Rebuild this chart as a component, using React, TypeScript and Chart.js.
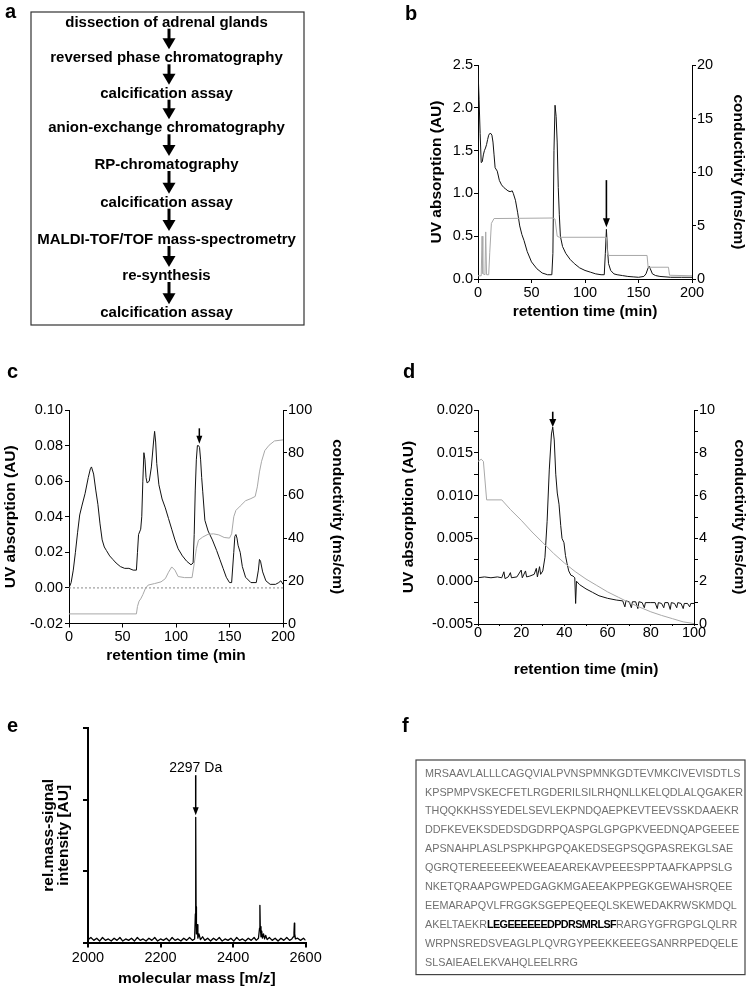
import React, { useEffect, useRef } from "react";
import { Chart, registerables } from "chart.js";

Chart.register(...registerables);

const SANS = "'Liberation Sans', Arial, Helvetica, sans-serif";
type Pt = [number, number];

// ---------------- Panel a: workflow ----------------
const flowSteps = [
  "dissection of adrenal glands",
  "reversed phase chromatography",
  "calcification assay",
  "anion-exchange chromatography",
  "RP-chromatography",
  "calcification assay",
  "MALDI-TOF/TOF mass-spectrometry",
  "re-synthesis",
  "calcification assay",
];

// ---------------- Panel b ----------------
const bUV: Pt[] = [
  [0, 2.45], [1, 2.1], [2, 1.7], [3, 1.36], [4, 1.37], [5, 1.45], [6, 1.5], [7, 1.53], [8, 1.57], [9, 1.63],
  [10, 1.68], [11, 1.7], [12, 1.7], [13, 1.68], [14, 1.6], [15, 1.45], [16, 1.3], [18, 1.26], [20, 1.15],
  [22, 1.1], [24, 1.07], [26, 1.05], [28, 1.03], [30, 1.02], [32, 1.03], [33, 1.0], [35, 0.92], [37, 0.78],
  [39, 0.62], [41, 0.52], [43, 0.45], [46, 0.32], [50, 0.2], [55, 0.12], [60, 0.07], [65, 0.05], [69, 0.05],
  [70, 0.3], [71, 1.5], [72, 2.03], [73, 1.9], [74, 1.6], [75, 1.07], [76, 0.75], [77, 0.5], [79, 0.38],
  [82, 0.3], [86, 0.23], [90, 0.18], [95, 0.13], [100, 0.1], [105, 0.08], [110, 0.06], [115, 0.05],
  [118, 0.05], [119, 0.3], [120, 0.58], [121, 0.35], [122, 0.18], [124, 0.1], [127, 0.06], [130, 0.05],
  [135, 0.04], [140, 0.03], [145, 0.025], [150, 0.02], [155, 0.03], [157, 0.06], [159, 0.13], [160, 0.15],
  [161, 0.12], [163, 0.06], [166, 0.04], [170, 0.03], [180, 0.02], [190, 0.02], [200, 0.02],
];
const bCond: Pt[] = [
  [0, 0.3], [3, 0.3], [3.8, 4.0], [4.5, 0.5], [6.5, 0.4], [7.2, 4.4], [8, 0.4], [10, 0.4], [11, 2.5],
  [12.5, 5.2], [15, 5.65], [70, 5.7], [72, 5.6], [74, 4.0], [76, 3.9], [120, 3.9], [121, 2.3], [122, 2.2],
  [158, 2.2], [159, 1.1], [178, 1.1], [179, 0.35], [200, 0.3],
];
const bArrow = { x: 120, from: 1.155, to: 0.605 };

// ---------------- Panel c ----------------
const cUV: Pt[] = [
  [0, 0.0], [2, 0.003], [4, 0.01], [6, 0.02], [8, 0.031], [10, 0.041], [12, 0.046], [15, 0.053], [18, 0.062],
  [20, 0.067], [21, 0.068], [23, 0.064], [25, 0.055], [27, 0.047], [29, 0.036], [31, 0.027], [33, 0.023],
  [35, 0.021], [38, 0.018], [41, 0.016], [44, 0.014], [48, 0.012], [52, 0.011], [56, 0.011], [60, 0.01],
  [63, 0.01], [64, 0.02], [65, 0.03], [67, 0.033], [68, 0.04], [69, 0.06], [70, 0.076], [71, 0.072],
  [72, 0.062], [73, 0.059], [75, 0.06], [77, 0.068], [79, 0.082], [80, 0.088], [81, 0.082], [82, 0.07],
  [84, 0.058], [87, 0.05], [90, 0.045], [93, 0.039], [96, 0.033], [99, 0.027], [102, 0.022], [106, 0.018],
  [110, 0.015], [114, 0.013], [116, 0.014], [117, 0.03], [118, 0.055], [119, 0.072], [120, 0.08], [121, 0.08],
  [122, 0.079], [123, 0.072], [124, 0.062], [125, 0.054], [127, 0.038], [130, 0.032], [134, 0.027],
  [138, 0.021], [141, 0.016], [144, 0.011], [147, 0.006], [150, 0.003], [152, 0.003], [154, 0.02],
  [155, 0.029], [156, 0.03], [157, 0.028], [158, 0.024], [160, 0.02], [162, 0.012], [165, 0.006],
  [170, 0.003], [175, 0.003], [177, 0.01], [178, 0.016], [179, 0.015], [181, 0.009], [184, 0.004],
  [188, 0.002], [193, 0.002], [196, 0.003], [198, 0.004], [200, 0.002],
];
const cCond: Pt[] = [
  [0, 4.5], [63, 4.5], [64, 8], [65.5, 10.5], [67, 11.5], [69, 13.5], [71.5, 16.5], [74, 18], [80, 18.7],
  [86, 19.5], [90, 21], [93, 24], [96, 26.5], [99, 25], [102, 22], [108, 21.5], [115, 21.5], [117, 28],
  [119, 35], [121, 39], [125, 40.5], [130, 41.8], [135, 42], [140, 41.5], [145, 40.3], [150, 40], [152, 42],
  [154, 50], [156, 53], [160, 55], [165, 57.5], [170, 58.5], [174, 59.5], [176, 64], [178, 71], [180, 76],
  [183, 81], [187, 83.5], [192, 85.5], [200, 86],
];
const cZero: Pt[] = [[0, 0], [200, 0]];
const cArrow = { x: 121.8, from: 0.0897, to: 0.081 };

// ---------------- Panel d ----------------
const dUV: Pt[] = [
  [0, 0.0004], [3, 0.0005], [6, 0.0004], [9, 0.0005], [11, 0.0004], [12, 0.0011], [12.5, 0.0003], [14, 0.0005],
  [15, 0.001], [15.5, 0.0004], [18, 0.0005], [20, 0.0013], [20.5, 0.0004], [22, 0.0012], [22.5, 0.0005],
  [24, 0.0006], [26, 0.0008], [27, 0.0015], [27.5, 0.0005], [28.5, 0.0017], [29, 0.0008], [30, 0.0012],
  [31, 0.0028], [32, 0.007], [33, 0.013], [34, 0.0172], [34.6, 0.018], [35.3, 0.0165], [36, 0.0125],
  [36.7, 0.0103], [37.5, 0.009], [38.3, 0.0065], [38.9, 0.005], [39.8, 0.0045], [40.5, 0.003], [41.2, 0.0021],
  [42, 0.0012], [43, 0.0007], [44, 0.0006], [44.8, 0.0004], [45.2, -0.0026], [45.6, 0.0], [47, -0.0004],
  [50, -0.0009], [53, -0.0013], [56, -0.0017], [60, -0.002], [64, -0.0022], [67, -0.0023], [68, -0.003],
  [68.5, -0.0023], [70, -0.0024], [71, -0.0031], [71.5, -0.0024], [73, -0.0024], [74, -0.0032], [74.5, -0.0024],
  [76, -0.0025], [77, -0.0031], [77.5, -0.0025], [80, -0.0025], [82, -0.0025], [83, -0.0032], [83.5, -0.0025],
  [85, -0.0026], [86, -0.0031], [86.5, -0.0025], [88, -0.0025], [89, -0.0033], [89.5, -0.0025], [91, -0.0026],
  [92, -0.0031], [92.5, -0.0025], [94, -0.0026], [95, -0.0032], [95.5, -0.0026], [97, -0.0026], [98, -0.003],
  [98.5, -0.0026], [100, -0.0026],
];
const dCond: Pt[] = [
  [0, 7.6], [1.5, 7.7], [2.5, 7.6], [4, 5.8], [11, 5.8], [15, 5.35], [20, 4.85], [25, 4.3], [30, 3.8],
  [35, 3.3], [40, 2.85], [45, 2.45], [50, 2.1], [55, 1.8], [60, 1.5], [65, 1.25], [70, 1.0], [75, 0.78],
  [80, 0.57], [85, 0.4], [90, 0.25], [95, 0.1], [100, 0.02],
];
const dArrow = { x: 34.6, from: 0.0198, to: 0.018 };

// ---------------- Panel e ----------------
const eSpectrum: Pt[] = [
  [2000, 0.04], [2008, 0.07], [2016, 0.03], [2024, 0.06], [2032, 0.02], [2040, 0.07], [2048, 0.03], [2056, 0.05],
  [2064, 0.02], [2072, 0.06], [2080, 0.03], [2088, 0.07], [2096, 0.02], [2104, 0.05], [2112, 0.03], [2120, 0.06],
  [2128, 0.02], [2136, 0.07], [2144, 0.03], [2152, 0.05], [2160, 0.02], [2168, 0.06], [2176, 0.03], [2184, 0.07],
  [2192, 0.02], [2200, 0.05], [2208, 0.03], [2216, 0.06], [2224, 0.02], [2232, 0.07], [2240, 0.03], [2248, 0.05],
  [2256, 0.02], [2264, 0.06], [2272, 0.03], [2280, 0.07], [2288, 0.03], [2294, 0.05], [2296, 0.4], [2297, 1.75],
  [2298, 0.5], [2299, 0.12], [2301, 0.25], [2303, 0.06], [2306, 0.12], [2310, 0.04], [2316, 0.08], [2322, 0.03],
  [2330, 0.06], [2338, 0.02], [2346, 0.06], [2354, 0.03], [2362, 0.07], [2370, 0.02], [2378, 0.05], [2386, 0.03],
  [2394, 0.06], [2402, 0.02], [2410, 0.07], [2418, 0.03], [2426, 0.05], [2434, 0.02], [2442, 0.06], [2450, 0.03],
  [2458, 0.07], [2464, 0.03], [2470, 0.06], [2473, 0.2], [2474, 0.52], [2475, 0.22], [2477, 0.08], [2479, 0.16],
  [2481, 0.06], [2484, 0.12], [2487, 0.05], [2490, 0.1], [2494, 0.04], [2500, 0.07], [2508, 0.03], [2516, 0.06],
  [2524, 0.02], [2532, 0.06], [2540, 0.03], [2548, 0.07], [2556, 0.03], [2562, 0.05], [2566, 0.08], [2568, 0.14],
  [2569, 0.27], [2570, 0.12], [2572, 0.05], [2578, 0.06], [2586, 0.03], [2594, 0.06], [2600, 0.03],
];
const eArrow = { x: 2297, from: 2.34, to: 1.78 };
const eLabel = { x: 2297, y: 2.44, text: "2297 Da" };

// ---------------- Panel f ----------------
const seqLines: string[] = [
  "MRSAAVLALLLCAGQVIALPVNSPMNKGDTEVMKCIVEVISDTLS",
  "KPSPMPVSKECFETLRGDERILSILRHQNLLKELQDLALQGAKER",
  "THQQKKHSSYEDELSEVLEKPNDQAEPKEVTEEVSSKDAAEKR",
  "DDFKEVEKSDEDSDGDRPQASPGLGPGPKVEEDNQAPGEEEE",
  "APSNAHPLASLPSPKHPGPQAKEDSEGPSQGPASREKGLSAE",
  "QGRQTEREEEEEKWEEAEAREKAVPEEESPPTAAFKAPPSLG",
  "NKETQRAAPGWPEDGAGKMGAEEAKPPEGKGEWAHSRQEE",
  "EEMARAPQVLFRGGKSGEPEQEEQLSKEWEDAKRWSKMDQL",
  "AKELTAEKR|LEGEEEEEEDPDRSMRLSF|RARGYGFRGPGLQLRR",
  "WRPNSREDSVEAGLPLQVRGYPEEKKEEEGSANRRPEDQELE",
  "SLSAIEAELEKVAHQLEELRRG",
];

// ---------------- chart machinery ----------------
interface AxisDef {
  min: number; max: number; step: number; major?: number; decimals: number;
  hideLabels?: boolean; title?: string | string[]; tickLen: number; tickPad: number;
}
interface Series { data: Pt[]; color: string; width: number; axis: string; dash?: number[] }
interface Arrow { x: number; from: number; to: number; head: number; headW: number; lw: number }
interface Note { x: number; y: number; text: string; size: number }
interface PanelSpec {
  canvas: { left: number; top: number; width: number; height: number };
  area: { left: number; top: number; right: number; bottom: number };
  x: AxisDef; y: AxisDef; y2?: AxisDef;
  xTitleY: number; yTitleX: number; y2TitleX?: number; yTitleLH?: number;
  axisColor: string; axisWidth: number;
  series: Series[]; arrows: Arrow[]; notes: Note[];
}

const UVC = "#111111";
const CONDC = "#a8a8a8";
const TITLE_SIZE = 15.5;

const panelB: PanelSpec = {
  canvas: { left: 395, top: 40, width: 354, height: 300 },
  area: { left: 478, top: 65, right: 692, bottom: 279 },
  x: { min: 0, max: 200, step: 50, decimals: 0, title: "retention time (min)", tickLen: 4, tickPad: 1 },
  y: { min: 0, max: 2.5, step: 0.5, decimals: 1, title: "UV absorption (AU)", tickLen: 4, tickPad: 1 },
  y2: { min: 0, max: 20, step: 5, decimals: 0, title: "conductivity (ms/cm)", tickLen: 4, tickPad: 1 },
  xTitleY: 312, yTitleX: 437, y2TitleX: 738,
  axisColor: "#000", axisWidth: 1,
  series: [
    { data: bCond, color: CONDC, width: 1, axis: "y2" },
    { data: bUV, color: UVC, width: 1, axis: "y" },
  ],
  arrows: [{ ...bArrow, head: 9, headW: 7, lw: 1.6 }],
  notes: [],
};

const panelC: PanelSpec = {
  canvas: { left: 0, top: 380, width: 380, height: 290 },
  area: { left: 69, top: 410, right: 283, bottom: 623.5 },
  x: { min: 0, max: 200, step: 50, decimals: 0, title: "retention time (min", tickLen: 4, tickPad: 1 },
  y: { min: -0.02, max: 0.1, step: 0.02, decimals: 2, title: "UV absorption (AU)", tickLen: 4, tickPad: 2 },
  y2: { min: 0, max: 100, step: 20, decimals: 0, title: "conductivity (ms/cm)", tickLen: 4, tickPad: 1 },
  xTitleY: 656, yTitleX: 11, y2TitleX: 337.5,
  axisColor: "#000", axisWidth: 1,
  series: [
    { data: cZero, color: "#8a8a8a", width: 1, axis: "y", dash: [2, 2] },
    { data: cCond, color: CONDC, width: 1, axis: "y2" },
    { data: cUV, color: UVC, width: 1, axis: "y" },
  ],
  arrows: [{ ...cArrow, head: 8, headW: 6, lw: 1.5 }],
  notes: [],
};

const panelD: PanelSpec = {
  canvas: { left: 395, top: 380, width: 354, height: 300 },
  area: { left: 478, top: 410, right: 694, bottom: 624 },
  x: { min: 0, max: 100, step: 10, major: 20, decimals: 0, title: "retention time (min)", tickLen: 2, tickPad: -2 },
  y: { min: -0.005, max: 0.02, step: 0.0025, major: 0.005, decimals: 3, title: "UV absorpbtion (AU)", tickLen: 4, tickPad: 1 },
  y2: { min: 0, max: 10, step: 1, major: 2, decimals: 0, title: "conductivity (ms/cm)", tickLen: 4, tickPad: 1 },
  xTitleY: 670, yTitleX: 408.5, y2TitleX: 740,
  axisColor: "#000", axisWidth: 1,
  series: [
    { data: dCond, color: CONDC, width: 1, axis: "y2" },
    { data: dUV, color: UVC, width: 1, axis: "y" },
  ],
  arrows: [{ ...dArrow, head: 8, headW: 7, lw: 1.6 }],
  notes: [],
};

const panelE: PanelSpec = {
  canvas: { left: 0, top: 700, width: 330, height: 291 },
  area: { left: 88, top: 728, right: 305.6, bottom: 942.5 },
  x: { min: 2000, max: 2600, step: 200, decimals: 0, title: "molecular mass [m/z]", tickLen: 5, tickPad: 2 },
  y: { min: 0, max: 3, step: 1, decimals: 0, hideLabels: true, title: ["rel.mass-signal", "intensity [AU]"], tickLen: 5, tickPad: 2 },
  xTitleY: 979, yTitleX: 48.5, yTitleLH: 1.0,
  axisColor: "#000", axisWidth: 2,
  series: [{ data: eSpectrum, color: "#000", width: 1.3, axis: "y" }],
  arrows: [{ ...eArrow, head: 8, headW: 6, lw: 1.5 }],
  notes: [{ ...eLabel, size: 14 }],
};

function tickFmt(ax: AxisDef) {
  return (v: any) => {
    if (ax.hideLabels) return "";
    const major = ax.major ?? ax.step;
    const r = Number(v) / major;
    if (Math.abs(r - Math.round(r)) > 1e-6) return "";
    const s = Number(v).toFixed(ax.decimals);
    return s === "-0.000" || s === "-0.00" || s === "-0.0" ? s.slice(1) : s;
  };
}

function makeScale(ax: AxisDef, position: string, fit: (s: any) => void, titlePad: any, color: string, width: number, lhf: number) {
  return {
    type: "linear",
    position,
    min: ax.min,
    max: ax.max,
    ticks: {
      stepSize: ax.step,
      autoSkip: false,
      maxRotation: 0,
      minRotation: 0,
      padding: ax.tickPad,
      color: "#000",
      font: { family: SANS, size: 14.5 },
      callback: tickFmt(ax),
    },
    grid: {
      display: true,
      drawOnChartArea: false,
      drawTicks: true,
      tickLength: ax.tickLen,
      color,
      lineWidth: width,
    },
    border: { display: true, color, width },
    title: ax.title
      ? {
          display: true,
          text: ax.title,
          color: "#000",
          font: { family: SANS, size: TITLE_SIZE, weight: "bold", lineHeight: lhf },
          padding: titlePad,
        }
      : { display: false },
    afterFit: fit,
  };
}

function buildChart(canvas: HTMLCanvasElement, p: PanelSpec) {
  const c = p.canvas;
  const a = p.area;
  const cr = c.left + c.width;
  const cb = c.top + c.height;
  const leftW = a.left - c.left;
  const rightW = cr - a.right;
  const botH = cb - a.bottom;
  const topPad = a.top - c.top;
  const lh12 = TITLE_SIZE * 1.2;
  const lhY = TITLE_SIZE * (p.yTitleLH ?? 1.2);

  const scales: any = {
    x: makeScale(p.x, "bottom", (s: any) => { s.height = botH; },
      { top: 0, bottom: cb - p.xTitleY - lh12 / 2 }, p.axisColor, p.axisWidth, 1.2),
    y: makeScale(p.y, "left", (s: any) => { s.width = leftW; },
      { top: p.yTitleX - c.left - lhY / 2, bottom: 0 }, p.axisColor, p.axisWidth, p.yTitleLH ?? 1.2),
  };
  if (p.y2) {
    scales.y2 = makeScale(p.y2, "right", (s: any) => { s.width = rightW; },
      { top: Math.max(0, cr - (p.y2TitleX ?? cr) - lh12 / 2), bottom: 0 }, p.axisColor, p.axisWidth, 1.2);
  }

  const overlay = {
    id: "overlay" + Math.round(c.left) + "_" + Math.round(c.top),
    afterDatasetsDraw(chart: any) {
      const ctx = chart.ctx as CanvasRenderingContext2D;
      const xs = chart.scales.x;
      const ys = chart.scales.y;
      for (const ar of p.arrows) {
        const px = xs.getPixelForValue(ar.x);
        const y0 = ys.getPixelForValue(ar.from);
        const y1 = ys.getPixelForValue(ar.to);
        ctx.save();
        ctx.strokeStyle = "#000";
        ctx.fillStyle = "#000";
        ctx.lineWidth = ar.lw;
        ctx.beginPath();
        ctx.moveTo(px, y0);
        ctx.lineTo(px, y1 - ar.head + 1);
        ctx.stroke();
        ctx.beginPath();
        ctx.moveTo(px - ar.headW / 2, y1 - ar.head);
        ctx.lineTo(px + ar.headW / 2, y1 - ar.head);
        ctx.lineTo(px, y1);
        ctx.closePath();
        ctx.fill();
        ctx.restore();
      }
      for (const n of p.notes) {
        ctx.save();
        ctx.fillStyle = "#000";
        ctx.font = `${n.size}px ${SANS}`;
        ctx.textAlign = "center";
        ctx.textBaseline = "middle";
        ctx.fillText(n.text, xs.getPixelForValue(n.x), ys.getPixelForValue(n.y));
        ctx.restore();
      }
    },
  };

  return new Chart(canvas, {
    type: "line",
    data: {
      datasets: p.series.map((s) => ({
        data: s.data.map(([x, y]) => ({ x, y })),
        borderColor: s.color,
        backgroundColor: s.color,
        borderWidth: s.width,
        borderDash: s.dash || [],
        borderJoinStyle: "round",
        pointRadius: 0,
        pointHoverRadius: 0,
        tension: 0,
        fill: false,
        xAxisID: "x",
        yAxisID: s.axis,
      })),
    } as any,
    options: {
      responsive: false,
      maintainAspectRatio: false,
      animation: false,
      devicePixelRatio: 1,
      events: [],
      layout: { padding: { top: topPad, left: 0, right: p.y2 ? 0 : rightW, bottom: 0 } },
      plugins: { legend: { display: false }, tooltip: { enabled: false } },
      scales,
    } as any,
    plugins: [overlay as any],
  });
}

function ChartPanel({ spec }: { spec: PanelSpec }) {
  const ref = useRef<HTMLCanvasElement>(null);
  useEffect(() => {
    if (!ref.current) return;
    const chart = buildChart(ref.current, spec);
    return () => chart.destroy();
  }, [spec]);
  const c = spec.canvas;
  return (
    <canvas
      ref={ref}
      width={c.width}
      height={c.height}
      style={{ position: "absolute", left: c.left, top: c.top, width: c.width, height: c.height }}
    />
  );
}

// ---------------- page ----------------
const flowRowY = [22.7, 58.3, 93.7, 128.3, 165, 202.7, 240, 276, 313.3];
const panelLetters = [
  { t: "a", x: 5, y: 18 },
  { t: "b", x: 405, y: 20 },
  { t: "c", x: 7, y: 378 },
  { t: "d", x: 403, y: 378 },
  { t: "e", x: 7, y: 732 },
  { t: "f", x: 402, y: 732 },
];

function Overlay() {
  const arrows = [];
  for (let i = 0; i < flowRowY.length - 1; i++) {
    const y0 = flowRowY[i] + 6;
    const y1 = flowRowY[i + 1] - 9;
    arrows.push(
      <g key={"ar" + i}>
        <line x1={169} y1={y0} x2={169} y2={y1 - 10} stroke="#000" strokeWidth={3} />
        <polygon points={`${162.5},${y1 - 11} ${175.5},${y1 - 11} ${169},${y1}`} fill="#000" />
      </g>
    );
  }
  return (
    <svg width={749} height={991} style={{ position: "absolute", left: 0, top: 0, pointerEvents: "none" }}>
      {panelLetters.map((l) => (
        <text key={l.t} x={l.x} y={l.y} fontFamily={SANS} fontWeight="bold" fontSize={20} fill="#000">
          {l.t}
        </text>
      ))}
      <rect x={31} y={12} width={273} height={313} fill="none" stroke="#333" strokeWidth={1.2} />
      {flowSteps.map((s, i) => (
        <text key={"fs" + i} x={166.5} y={flowRowY[i] + 4} textAnchor="middle" fontFamily={SANS}
          fontWeight="bold" fontSize={15} fill="#000">
          {s}
        </text>
      ))}
      {arrows}
      <rect x={416} y={760} width={329} height={214.6} fill="none" stroke="#444" strokeWidth={1.2} />
      {seqLines.map((line, i) => {
        const parts = line.split("|");
        return (
          <text key={"sq" + i} x={425} y={776.6 + i * 18.92} fontFamily={SANS} fontSize={10.8} fill="#707070">
            {parts.map((pt, j) => (
              <tspan
                key={j}
                fontWeight={j === 1 ? "bold" : "normal"}
                fill={j === 1 ? "#000" : "#707070"}
                style={j === 1 ? { letterSpacing: "-0.6px" } : undefined}
              >
                {pt}
              </tspan>
            ))}
          </text>
        );
      })}
    </svg>
  );
}

export default function App() {
  return (
    <div
      style={{
        position: "absolute",
        left: 0,
        top: 0,
        width: 749,
        height: 991,
        background: "#fff",
        overflow: "hidden",
        fontFamily: SANS,
      }}
    >
      <ChartPanel spec={panelB} />
      <ChartPanel spec={panelC} />
      <ChartPanel spec={panelD} />
      <ChartPanel spec={panelE} />
      <Overlay />
    </div>
  );
}
